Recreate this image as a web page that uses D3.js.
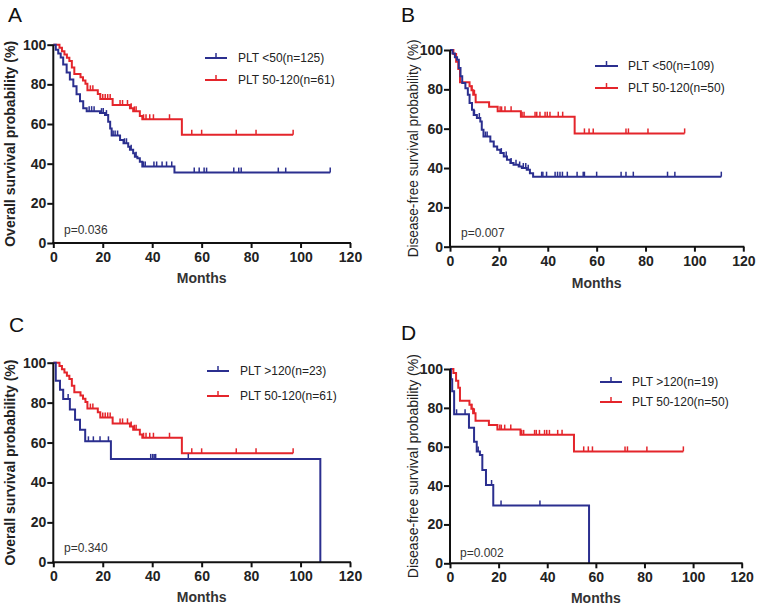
<!DOCTYPE html>
<html>
<head>
<meta charset="utf-8">
<script src="https://cdn.jsdelivr.net/npm/d3@7"></script>
<style>
  html, body { margin: 0; padding: 0; background: #fff; }
  svg { display: block; font-family: Arial, "Liberation Sans", sans-serif; }
</style>
</head>
<body>
<svg id="chart" width="758" height="607"></svg>
<script>
// ---------------- DATA ----------------
const xTicks = [0, 20, 40, 60, 80, 100, 120];
const yTicks = [0, 20, 40, 60, 80, 100];

// OS, PLT <50 (n=125)
const osLowT = [1, 2, 3, 4, 5.4, 6.7, 8.1, 9.4, 10.8, 12.1, 13.5, 18.9, 20.9, 22.2, 23, 23.6, 27, 28.4, 30.3, 31, 32.3, 33, 34, 35, 36, 49];
const osLowS = [97.5, 95.5, 93.5, 90, 86, 82.5, 79, 75, 71.5, 68, 66.5, 65.5, 64.5, 61.2, 57.8, 54.2, 52, 50.3, 48.6, 47, 45.2, 43.5, 42.7, 41, 38.6, 35.5];
const osLowC = [14.5, 15.5, 16.5, 19.5, 20.2, 21.5, 24.2, 25, 26, 28.8, 29.6, 31.5, 33.5, 36.5, 37.2, 40.7, 41.8, 44, 45.8, 47.9, 57, 59, 61, 62, 73, 75, 76, 91, 94, 112];

// OS, PLT 50-120 (n=61)
const osMidT = [2.5, 3.5, 4.5, 5.5, 6.5, 7.5, 8.5, 11, 12, 13, 13.8, 18, 19, 24, 31, 32.3, 35, 36, 52];
const osMidS = [98.4, 96.7, 95.1, 93.4, 91.8, 88.5, 85.2, 83.6, 82, 80.3, 77, 75.2, 72.6, 69.6, 68, 66.4, 64, 62.4, 54.6];
const osMidC = [15, 16, 20, 21, 22, 23, 27, 28, 30, 31.5, 32.8, 33.5, 36.5, 37.5, 39, 40.5, 47, 56, 60, 74, 82, 97];

// OS, PLT >120 (n=23)
const osHighT = [1, 2.7, 4, 6.7, 8.8, 10.8, 12.9, 23.3, 108];
const osHighS = [90.9, 86.4, 81.8, 76.5, 71.4, 66.4, 60.6, 51.8, 0];
const osHighC = [6, 14.2, 16.2, 18.9, 22.3, 39.4, 40.2, 40.8, 41.4, 54.6];

// DFS, PLT <50 (n=109)
const dfsLowT = [1, 2, 2.9, 3.6, 4.3, 5, 6.3, 7.3, 8, 9, 9.7, 11, 12.4, 13, 13.7, 16.5, 17.9, 19.3, 20.6, 22, 23.3, 24.7, 26, 28.1, 29.4, 31.4, 32.7, 34];
const dfsLowS = [98.2, 96.3, 95, 90.8, 86.6, 83.2, 80.6, 77.2, 73, 69.6, 67, 65.4, 63.7, 59.5, 56, 53.5, 51, 49.3, 47.6, 45.9, 44.2, 42.5, 41.7, 40.8, 40, 39.1, 37.4, 35.6];
const dfsLowC = [10, 12, 14.5, 15.2, 21, 23, 25, 27, 28.5, 30, 31, 32, 37.5, 38, 39.5, 43, 44, 45, 46, 48, 52, 54.5, 55, 60, 70, 72, 75, 89, 92, 111];

// DFS, PLT 50-120 (n=50)
const dfsMidT = [1.4, 2.5, 3.4, 4.1, 8, 8.8, 9.5, 10.5, 16, 19.5, 29, 51];
const dfsMidS = [98, 94, 90.3, 83.6, 81.6, 79.6, 77.2, 73.4, 71.2, 68.8, 66.1, 57.6];
const dfsMidC = [9, 10, 20.5, 21.1, 22.5, 25, 29.5, 30.3, 34.8, 35.5, 36.8, 38.9, 39.8, 40.9, 44.3, 46.1, 55, 56.9, 58.6, 72, 73, 81, 96];

// DFS, PLT >120 (n=19)
const dfsHighT = [0.4, 0.9, 1.7, 7.8, 9.9, 11, 12.3, 13.3, 14.8, 17.8, 57.2];
const dfsHighS = [94.7, 88.5, 76.7, 69.8, 62.6, 57.5, 55.7, 48, 40.3, 29.7, 0];
const dfsHighC = [2.7, 6.2, 11.6, 17.1, 21, 37];

const panelLetters = ["A", "B", "C", "D"];
const yTitles = ["Overall survival probability (%)", "Disease-free survival probability (%)",
                 "Overall survival probability (%)", "Disease-free survival probability (%)"];
const pValues = ["p=0.036", "p=0.007", "p=0.340", "p=0.002"];
const legendBlue = ["PLT <50(n=125)", "PLT <50(n=109)", "PLT >120(n=23)", "PLT >120(n=19)"];
const legendRed = ["PLT 50-120(n=61)", "PLT 50-120(n=50)", "PLT 50-120(n=61)", "PLT 50-120(n=50)"];

// ---------------- LAYOUT ----------------
const BLUE = "#2b2f8f", RED = "#e4252b";
const panels = [
  { x: [53.3, 350], y: [44.7, 243], letter: [8, 22], ytx: 10, ytLen: 206, bold: true,
    blue: [osLowT, osLowS, osLowC], red: [osMidT, osMidS, osMidC],
    leg: { x0: 205, x1: 227, tx: 238, y: [58, 80] }, p: [64, 230], monthsY: 283 },
  { x: [450, 743.3], y: [50, 246.7], letter: [401, 22], ytx: 412, ytLen: 218, bold: false,
    blue: [dfsLowT, dfsLowS, dfsLowC], red: [dfsMidT, dfsMidS, dfsMidC],
    leg: { x0: 595, x1: 618, tx: 628, y: [66, 88] }, p: [461, 233], monthsY: 288 },
  { x: [53.3, 350], y: [362.7, 562.3], letter: [9, 332], ytx: 10, ytLen: 206, bold: true,
    blue: [osHighT, osHighS, osHighC], red: [osMidT, osMidS, osMidC],
    leg: { x0: 207, x1: 229, tx: 240, y: [371, 396] }, p: [64, 548], monthsY: 602 },
  { x: [450, 741.7], y: [369, 563.3], letter: [401, 340], ytx: 412, ytLen: 224, bold: false,
    blue: [dfsHighT, dfsHighS, dfsHighC], red: [dfsMidT, dfsMidS, dfsMidC],
    leg: { x0: 600, x1: 622, tx: 632, y: [382, 402] }, p: [460, 553], monthsY: 603 }
];

const svg = d3.select("#chart");

function survAt(T, S, t) {
  let s = 100;
  for (let i = 0; i < T.length; i++) { if (T[i] <= t) s = S[i]; }
  return s;
}

function drawCurve(g, x, y, T, S, C, color) {
  const pts = [[0, 100]];
  let cur = 100;
  for (let i = 0; i < T.length; i++) {
    pts.push([T[i], cur]);
    pts.push([T[i], S[i]]);
    cur = S[i];
  }
  const end = Math.max(d3.max(C), T[T.length - 1]);
  if (end > T[T.length - 1]) pts.push([end, cur]);
  g.append("path")
    .attr("d", d3.line().x(d => x(d[0])).y(d => y(d[1]))(pts))
    .attr("fill", "none").attr("stroke", color).attr("stroke-width", 2)
    .attr("stroke-linejoin", "miter");
  g.selectAll(null).data(C).enter().append("line")
    .attr("x1", d => x(d)).attr("x2", d => x(d))
    .attr("y1", d => y(survAt(T, S, d)))
    .attr("y2", d => y(survAt(T, S, d)) - 5)
    .attr("stroke", color).attr("stroke-width", 1.5);
}

panels.forEach((p, i) => {
  const x = d3.scaleLinear().domain([0, 120]).range(p.x);
  const y = d3.scaleLinear().domain([0, 100]).range([p.y[1], p.y[0]]);
  const g = svg.append("g");

  // curves (red first then blue on top)
  drawCurve(g, x, y, p.red[0], p.red[1], p.red[2], RED);
  drawCurve(g, x, y, p.blue[0], p.blue[1], p.blue[2], BLUE);

  // axes
  const xa = g.append("g").attr("transform", `translate(0,${p.y[1]})`)
    .call(d3.axisBottom(x).tickValues(xTicks).tickSize(5).tickSizeOuter(0).tickPadding(4));
  const ya = g.append("g").attr("transform", `translate(${p.x[0]},0)`)
    .call(d3.axisLeft(y).tickValues(yTicks).tickSize(6).tickSizeOuter(0).tickPadding(1));
  [xa, ya].forEach(a => {
    a.select(".domain").attr("stroke", "#111").attr("stroke-width", 2);
    a.selectAll(".tick line").attr("stroke", "#111").attr("stroke-width", 2);
    a.selectAll(".tick text").attr("font-size", 14).attr("font-weight", "bold")
      .attr("fill", "#222").attr("font-family", "Arial, 'Liberation Sans', sans-serif");
  });
  // extend the y-axis domain slightly to meet the x-axis
  ya.select(".domain").attr("d", `M0,${p.y[0]}V${p.y[1] + 1}`);
  xa.select(".domain").attr("d", `M-1,0H${p.x[1] - p.x[0] + 1}`).attr("transform", `translate(${p.x[0]},0)`);

  // Months title
  g.append("text").attr("x", (p.x[0] + p.x[1]) / 2).attr("y", p.monthsY)
    .attr("text-anchor", "middle").attr("font-size", 14).attr("font-weight", "bold")
    .attr("fill", "#333").text("Months");

  // Y title
  const cy = (p.y[0] + p.y[1]) / 2;
  g.append("text")
    .attr("transform", `translate(${p.ytx},${cy}) rotate(-90)`)
    .attr("text-anchor", "middle").attr("dominant-baseline", "central")
    .attr("font-size", p.bold ? 14 : 15).attr("font-weight", p.bold ? "bold" : "normal")
    .attr("fill", "#222")
    .attr("textLength", p.ytLen).attr("lengthAdjust", "spacingAndGlyphs")
    .text(yTitles[i]);

  // panel letter
  svg.append("text").attr("x", p.letter[0]).attr("y", p.letter[1])
    .attr("font-size", 21).attr("fill", "#111").text(panelLetters[i]);

  // p-value
  g.append("text").attr("x", p.p[0]).attr("y", p.p[1])
    .attr("dominant-baseline", "central").attr("font-size", 12).attr("fill", "#333")
    .text(pValues[i]);

  // legend
  const legItems = [[BLUE, legendBlue[i]], [RED, legendRed[i]]];
  legItems.forEach((it, k) => {
    const ly = p.leg.y[k];
    g.append("line").attr("x1", p.leg.x0).attr("x2", p.leg.x1).attr("y1", ly).attr("y2", ly)
      .attr("stroke", it[0]).attr("stroke-width", 2);
    const mx = (p.leg.x0 + p.leg.x1) / 2;
    g.append("line").attr("x1", mx).attr("x2", mx).attr("y1", ly - 5).attr("y2", ly + 1)
      .attr("stroke", it[0]).attr("stroke-width", 1.5);
    g.append("text").attr("x", p.leg.tx).attr("y", ly).attr("dominant-baseline", "central")
      .attr("font-size", 12).attr("fill", "#222").text(it[1]);
  });
});
</script>
</body>
</html>
